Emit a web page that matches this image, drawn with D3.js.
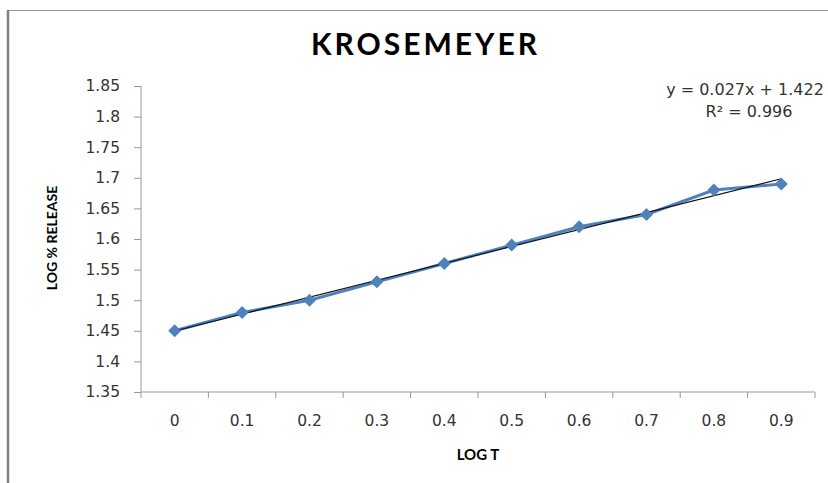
<!DOCTYPE html>
<html lang="en">
  <head>
    <meta charset="utf-8">
    <title>Krosemeyer</title>
    <script src="https://d3js.org/d3.v7.min.js"></script>
    <style>
      body { margin: 0; background: #fff; }
      .tick text { font-family: "DejaVu Sans", sans-serif; font-size: 15.5px; fill: #333; }
      .tick line, .domain { stroke: #999; }
    </style>
  </head>
  <body>
    <script>
      // data
      var logT = ["0", "0.1", "0.2", "0.3", "0.4", "0.5", "0.6", "0.7", "0.8", "0.9"];
      var logRelease = [1.45, 1.48, 1.50, 1.53, 1.56, 1.59, 1.62, 1.64, 1.68, 1.69];
      var yTicks = [1.35, 1.4, 1.45, 1.5, 1.55, 1.6, 1.65, 1.7, 1.75, 1.8, 1.85];

      var width = 828, height = 483;
      var margin = {top: 86, right: 13, bottom: 91, left: 141};

      var svg = d3.select("body").append("svg")
                  .attr("width", width)
                  .attr("height", height);

      // chart frame
      svg.append("line").attr("x1", 8).attr("x2", width).attr("y1", 10.5).attr("y2", 10.5)
         .attr("stroke", "#999").attr("stroke-width", 1);
      svg.append("line").attr("x1", 8).attr("x2", 8).attr("y1", 10).attr("y2", height)
         .attr("stroke", "#808080").attr("stroke-width", 2.5);

      var x = d3.scaleBand()
                .domain(logT)
                .range([margin.left, width - margin.right]);

      var y = d3.scaleLinear()
                .domain([1.35, 1.85])
                .range([height - margin.bottom, margin.top]);

      // y axis
      svg.append("g")
         .attr("transform", "translate(" + margin.left + ",0)")
         .call(d3.axisLeft(y).tickValues(yTicks).tickFormat(d3.format("")).tickSize(7).tickPadding(14))
         .call(g => g.select(".domain").attr("d", "M-0.5," + y(1.85) + "H0V" + y(1.35)));

      // x axis: ticks sit on category boundaries, labels in the middle
      var xAxis = svg.append("g")
         .attr("transform", "translate(0," + (height - margin.bottom) + ")");
      xAxis.append("path").attr("class", "domain")
           .attr("d", "M" + margin.left + ",0H" + (width - margin.right))
           .attr("fill", "none");
      xAxis.selectAll(".bound")
           .data(d3.range(logT.length + 1))
           .join("line")
           .attr("stroke", "#999")
           .attr("x1", i => margin.left + i * x.step())
           .attr("x2", i => margin.left + i * x.step())
           .attr("y1", 0).attr("y2", 6);
      xAxis.selectAll(".lab")
           .data(logT)
           .join("text")
           .attr("x", d => x(d) + x.bandwidth() / 2)
           .attr("y", 34)
           .attr("text-anchor", "middle")
           .attr("font-family", "DejaVu Sans, sans-serif")
           .attr("font-size", 15.5)
           .attr("fill", "#333")
           .text(d => d);

      var cx = d => x(d) + x.bandwidth() / 2;

      // series
      svg.append("path")
         .datum(logRelease)
         .attr("fill", "none")
         .attr("stroke", "#4F81BD")
         .attr("stroke-width", 3)
         .attr("d", d3.line().x((d, i) => cx(logT[i])).y(d => y(d)));

      // linear trendline (x = 1..n as in the spreadsheet)
      var n = logRelease.length;
      var mx = (n + 1) / 2, my = d3.mean(logRelease);
      var sxy = d3.sum(logRelease, (v, i) => (i + 1 - mx) * (v - my));
      var sxx = d3.sum(logRelease, (v, i) => (i + 1 - mx) * (i + 1 - mx));
      var slope = sxy / sxx, icept = my - slope * mx;
      svg.append("line")
         .attr("x1", cx(logT[0])).attr("y1", y(icept + slope))
         .attr("x2", cx(logT[n - 1])).attr("y2", y(icept + slope * n))
         .attr("stroke", "#111").attr("stroke-width", 1.1);

      svg.selectAll(".pt")
         .data(logRelease)
         .join("path")
         .attr("transform", (d, i) => "translate(" + cx(logT[i]) + "," + y(d) + ")")
         .attr("d", "M0,-6.5L6.5,0L0,6.5L-6.5,0Z")
         .attr("fill", "#4F81BD");

      // trendline equation
      var eq = svg.append("text")
         .attr("text-anchor", "middle")
         .attr("font-family", "DejaVu Sans, sans-serif")
         .attr("font-size", 16)
         .attr("fill", "#333");
      eq.append("tspan").attr("x", 745).attr("y", 95).text("y = 0.027x + 1.422");
      eq.append("tspan").attr("x", 749).attr("y", 117).text("R² = 0.996");

      // titles
      svg.append("text")
         .attr("x", 425.5).attr("y", 55)
         .attr("text-anchor", "middle")
         .attr("font-family", "Lato, sans-serif")
         .attr("font-weight", "bold")
         .attr("font-size", 30)
         .attr("letter-spacing", 3)
         .attr("fill", "#000")
         .text("KROSEMEYER");

      svg.append("text")
         .attr("x", 478).attr("y", 460)
         .attr("text-anchor", "middle")
         .attr("font-family", "Lato, sans-serif")
         .attr("font-weight", "bold")
         .attr("font-size", 15)
         .text("LOG T");

      svg.append("text")
         .attr("transform", "translate(57,238) rotate(-90)")
         .attr("text-anchor", "middle")
         .attr("font-family", "Lato, sans-serif")
         .attr("font-weight", "bold")
         .attr("font-size", 14)
         .text("LOG % RELEASE");
    </script>
  </body>
</html>
